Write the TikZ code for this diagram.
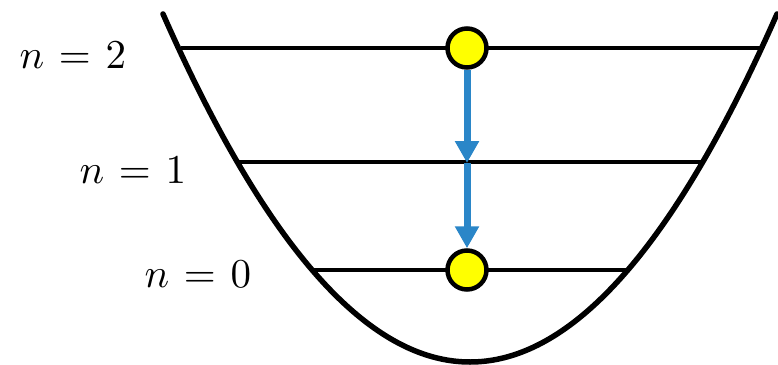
\documentclass[tikz,border=0pt]{standalone}
\usetikzlibrary{arrows.meta}
\definecolor{arrowblue}{HTML}{2A86C8}
\definecolor{dotyellow}{HTML}{FFFF00}
\begin{document}
\begin{tikzpicture}[x=1pt,y=-1pt,
  well/.style={line width=5.5pt,line cap=round},
  level/.style={line width=4.5pt},
  dot/.style={circle,draw=black,line width=4.5pt,fill=dotyellow,minimum size=39pt,inner sep=0pt},
  jump/.style={draw=arrowblue,line width=7pt,-{Triangle[width=23pt,length=22pt]}},
  lab/.style={inner sep=0pt,anchor=base east,scale=4.1}
]
\useasboundingbox (0,0) rectangle (778,364);
% potential well
\draw[well] plot[domain=163:777,samples=120,smooth] (\x,{362-0.0037*(\x-470)*(\x-470)});
% levels
\coordinate (L2l) at (181,48);  \coordinate (L2r) at (760,48);
\coordinate (L1l) at (237,162); \coordinate (L1r) at (703,162);
\coordinate (L0l) at (312,270); \coordinate (L0r) at (628,270);
\draw[level] (L2l) -- (L2r);
\draw[level] (L1l) -- (L1r);
\draw[level] (L0l) -- (L0r);
% particles
\node[dot] (c2) at (467,48) {};
\node[dot] (c0) at (467,270) {};
\coordinate (m1) at (467,163);
% transitions
\draw[jump] (c2.south) -- (m1);
\draw[jump] (m1) -- (c0.north);
% labels
\thickmuskip=6.5mu
\node[lab] (t2) at (127,68) {$n=2$};
\node[lab] (t1) at (187,183) {$n=1$};
\node[lab] (t0) at (252,287) {$n=0$};
\end{tikzpicture}
\end{document}
